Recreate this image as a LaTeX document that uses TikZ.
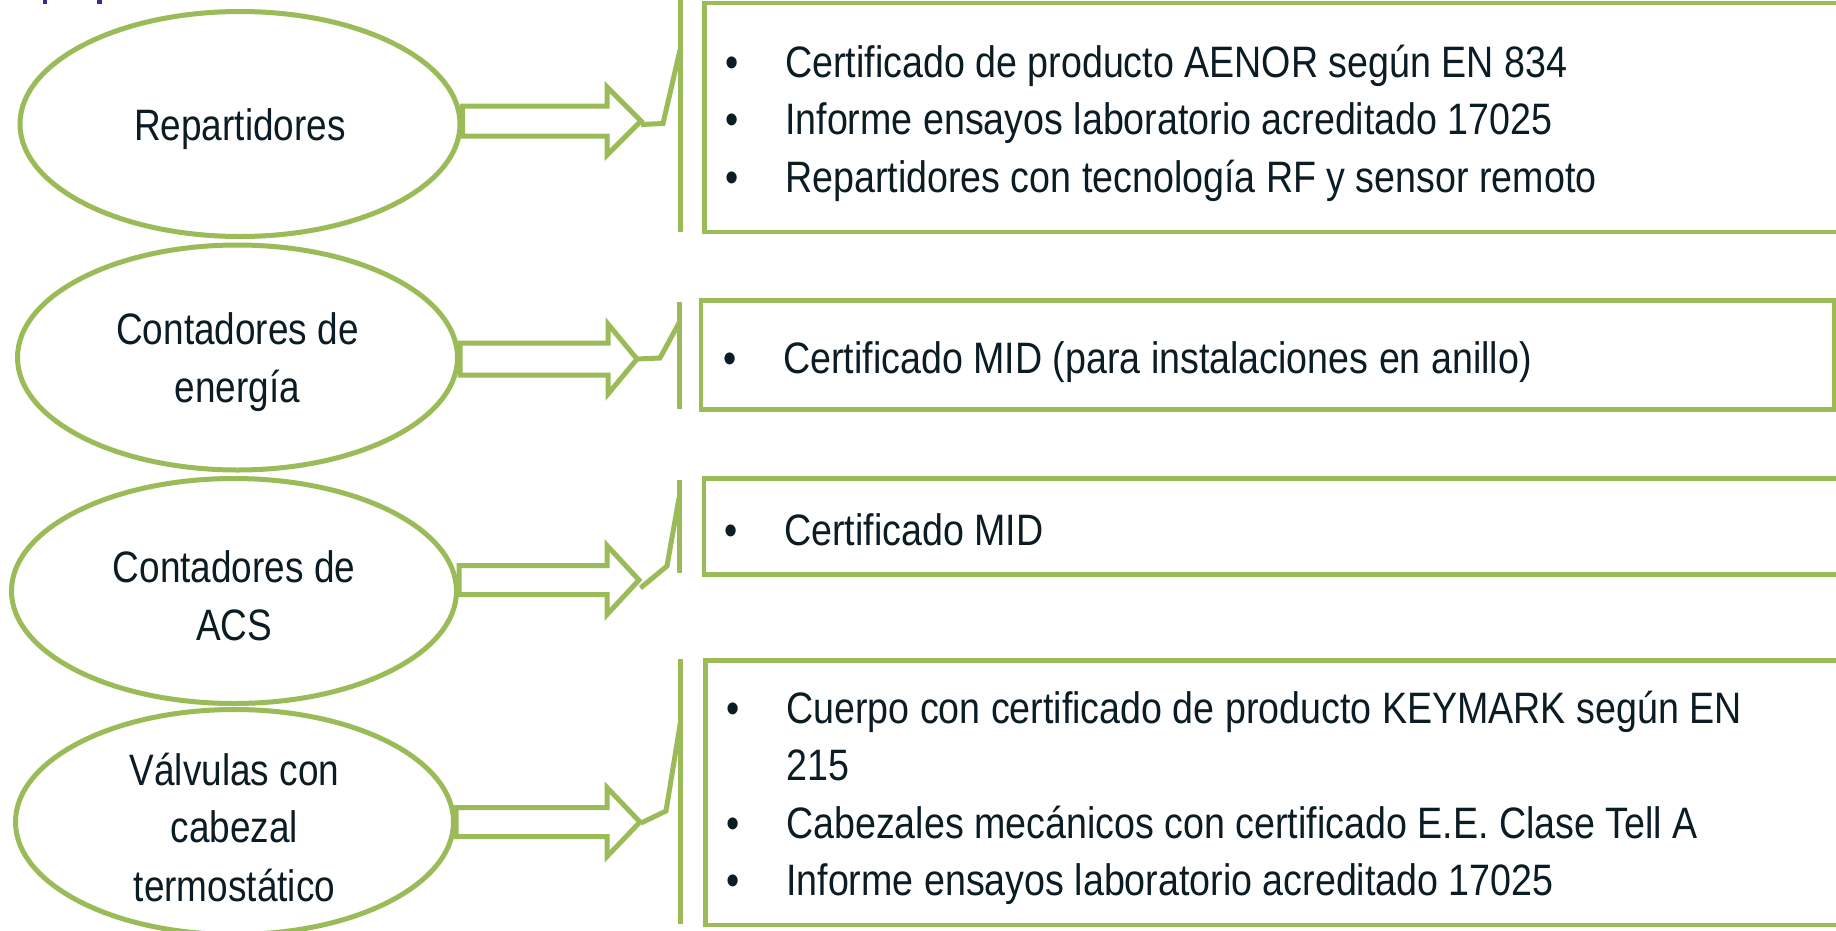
\documentclass[tikz,border=0pt]{standalone}
\usepackage{fontspec}
\setmainfont{Liberation Sans}[FakeStretch=0.84]
\newfontfamily\listfont{Liberation Sans}[FakeStretch=0.855]
\usetikzlibrary{shapes.geometric,calc}
\definecolor{grn}{RGB}{155,187,89}
\definecolor{ink}{RGB}{12,28,36}
\definecolor{frag}{RGB}{46,49,146}
\tikzset{
 ell/.style={ellipse, draw=grn, line width=5pt, minimum width=440pt, minimum height=225pt, inner sep=0pt},
 lbl/.style={text=ink, align=center, font=\fontsize{44}{58}\selectfont, inner sep=0pt, yshift=-5pt},
 box/.style={draw=grn, line width=4.5pt, inner sep=0pt},
 list/.style={text=ink, font=\listfont\fontsize{44}{57.5}\selectfont, inner sep=0pt, anchor=base west},
 bar/.style={draw=grn, line width=5pt},
 barrow/.style={draw=grn, line width=5pt, fill=white, line join=miter},
 conn/.style={draw=grn, line width=5pt},
}
\begin{document}
\begin{tikzpicture}[x=1pt,y=-1pt]
\path[use as bounding box, clip] (0,0) rectangle (1836,930);
\fill[white] (0,0) rectangle (1836,930);
% blue fragments of cut-off title
\fill[frag] (43,0) rectangle (47,4);
\fill[frag] (97,0) rectangle (102,4);

% ellipses
\node[ell] (e1) at (240,124) {};
\node[ell] (e2) at (237.5,357.5) {};
\node[ell, minimum width=445pt] (e3) at (234,591) {};
\node[ell, minimum width=438pt] (e4) at (234.5,822) {};
\node[lbl] (t1) at (e1) {Repartidores};
\node[lbl] (t2) at (e2) {Contadores de\\energía};
\node[lbl] (t3) at (e3) {Contadores de\\ACS};
\node[lbl] (t4) at (e4) {Válvulas con\\cabezal\\termostático};

% boxes
\node[box, minimum width=1155.5pt, minimum height=229pt] (b1) at (1282.25,117.5) {};
\node[box, minimum width=1133pt, minimum height=109pt] (b2) at (1267.5,355) {};
\node[box, minimum width=1156pt, minimum height=96pt] (b3) at (1282,526.5) {};
\node[box, minimum width=1154.5pt, minimum height=264.5pt] (b4) at (1282.75,792.75) {};

\node[list] (l1) at (725.5,77) {\begin{tabular}[t]{@{}p{59.5pt}@{}l@{}}\textbullet & Certificado de producto AENOR según EN 834\\ \textbullet & Informe ensayos laboratorio acreditado 17025\\ \textbullet & Repartidores con tecnología RF y sensor remoto\end{tabular}};
\node[list] (l2) at (723,373) {\begin{tabular}[t]{@{}p{60pt}@{}l@{}}\textbullet & Certificado MID (para instalaciones en anillo)\end{tabular}};
\node[list] (l3) at (724,545) {\begin{tabular}[t]{@{}p{60pt}@{}l@{}}\textbullet & Certificado MID\end{tabular}};
\node[list] (l4) at (726.5,723) {\begin{tabular}[t]{@{}p{59.5pt}@{}l@{}}\textbullet & Cuerpo con certificado de producto KEYMARK según EN\\ & 215\\ \textbullet & Cabezales mecánicos con certificado E.E. Clase Tell A\\ \textbullet & Informe ensayos laboratorio acreditado 17025\end{tabular}};

% bracket lines
\draw[bar] (680,0) coordinate (k1t) -- (680,232) coordinate (k1b);
\draw[bar] (679,302) coordinate (k2t) -- (679,409) coordinate (k2b);
\draw[bar] (679,480) coordinate (k3t) -- (679,573) coordinate (k3b);
\draw[bar] (680.5,659) coordinate (k4t) -- (680.5,924) coordinate (k4b);
\coordinate (k1j) at (680,50);
\coordinate (k2j) at (679,323);
\coordinate (k3j) at (679,498);
\coordinate (k4j) at (680.5,722);

% block arrows
\draw[barrow] (e1.east |- 0,106) -- (607,106) -- (607,87) -- (641,121) coordinate (p1) -- (607,155) -- (607,136) -- (e1.east |- 0,136) -- cycle;
\draw[barrow] (e2.east |- 0,343) -- (608,343) -- (608,324) -- (637,359) coordinate (p2) -- (608,394) -- (608,375) -- (e2.east |- 0,375) -- cycle;
\draw[barrow] (e3.east |- 0,565.5) -- (607,565.5) -- (607,545.5) -- (639,580) coordinate (p3) -- (607,614.5) -- (607,594.5) -- (e3.east |- 0,594.5) -- cycle;
\draw[barrow] (e4.east |- 0,807.5) -- (607,807.5) -- (607,787.5) -- (640,822) coordinate (p4) -- (607,856.5) -- (607,836.5) -- (e4.east |- 0,836.5) -- cycle;

% bent connectors to the brackets
\draw[conn] ($(p1)+(0,3.5)$) -- (663,123.5) -- (k1j);
\draw[conn] (p2) -- (660,358) -- (k2j);
\draw[conn] ($(p3)+(1.5,8)$) -- (667,566) -- (k3j);
\draw[conn] ($(p4)+(1,1)$) -- (666,811) -- (k4j);
\end{tikzpicture}
\end{document}
